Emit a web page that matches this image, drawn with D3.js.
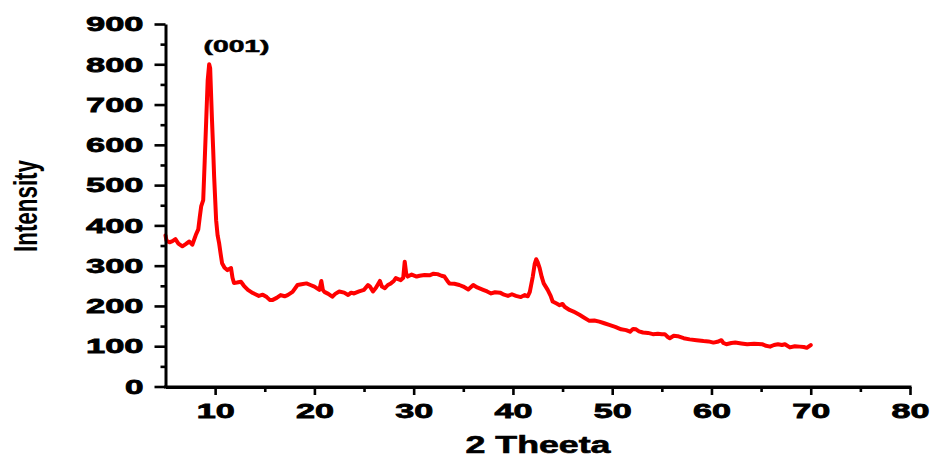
<!DOCTYPE html>
<html>
<head>
<meta charset="utf-8">
<script src="https://cdn.jsdelivr.net/npm/d3@7"></script>
<style>
  html, body { margin: 0; padding: 0; background: #fff; }
  svg { display: block; }
</style>
</head>
<body>
<svg id="chart" width="932" height="457"></svg>
<script>
// ---- Data ----
const twoTheta = [5.0,5.1,5.4,5.7,6.0,6.3,6.7,7.0,7.4,7.7,8.05,8.3,8.45,8.6,8.8,8.95,9.1,9.25,9.4,9.5,9.67,9.8,9.9,10.1,10.25,10.4,10.55,10.7,10.95,11.25,11.6,11.75,11.9,12.2,12.6,12.9,13.3,13.8,14.4,14.8,15.2,15.5,15.8,16.2,16.6,17.0,17.3,17.8,18.3,18.7,19.2,19.6,20.0,20.5,20.7,20.85,21.0,21.4,21.8,22.1,22.5,23.0,23.4,23.7,24.0,24.5,25.0,25.4,25.6,25.9,26.2,26.6,26.8,27.1,27.4,27.7,28.0,28.2,28.5,28.7,28.95,29.1,29.25,29.4,29.8,30.3,30.6,31.1,31.6,32.0,32.4,32.8,33.1,33.4,33.6,34.1,34.6,35.0,35.5,36.0,36.4,37.0,37.4,37.8,38.2,38.7,39.1,39.5,39.9,40.3,40.8,41.2,41.5,41.7,42.0,42.2,42.35,42.5,42.7,42.9,43.1,43.5,43.8,44.0,44.4,44.7,45.0,45.2,45.7,46.1,46.7,47.1,47.7,48.2,48.7,49.2,49.7,50.3,50.9,51.4,51.8,52.1,52.4,52.7,53.1,53.6,54.1,54.6,55.0,55.3,55.6,55.8,56.2,56.6,57.2,57.8,58.5,59.2,59.7,60.2,60.6,61.0,61.2,61.5,62.0,62.4,63.0,63.6,64.3,65.1,65.5,65.9,66.3,66.7,67.1,67.4,67.9,68.4,68.9,69.3,69.6,70.0];
const intensity = [375,362,358,361,366,355,348,353,360,352,376,390,420,448,463,560,660,760,800,790,670,590,521,413,375,356,330,306,295,289,294,270,257,258,260,250,240,232,225,228,222,215,215,220,227,224,227,235,252,254,256,252,248,240,262,240,235,230,223,230,236,233,227,233,231,236,240,252,248,236,245,262,248,244,252,256,262,269,266,264,270,310,280,273,278,273,275,277,276,280,279,275,273,262,256,255,252,248,241,252,246,240,236,231,234,233,228,225,229,225,222,227,224,235,273,305,316,308,293,272,256,240,225,211,206,202,205,198,190,186,178,172,163,164,161,157,153,148,142,140,136,143,142,137,134,133,130,131,130,130,123,120,126,125,120,117,115,113,112,109,111,115,108,105,108,109,107,105,106,105,101,99,103,105,103,105,97,100,99,98,96,103];

const xMajorTicks = [10,20,30,40,50,60,70,80];
const xMinorTicks = [15,25,35,45,55,65,75];
const yMajorTicks = [0,100,200,300,400,500,600,700,800,900];
const yMinorTicks = [50,150,250,350,450,550,650,750,850];
const xTitle = "2 Theeta";
const yTitle = "Intensity";
const peakLabel = "(001)";

// ---- Layout ----
const svg = d3.select("#chart");
const x = d3.scaleLinear().domain([5, 80]).range([165.5, 910]);
const y = d3.scaleLinear().domain([0, 900]).range([386.5, 24]);
const axisX0 = 387, axisY0 = 165.5;
const labelFont = "'Liberation Sans', Arial, sans-serif";

// line
const data = twoTheta.map((t, i) => [t, intensity[i]]);
svg.append("path")
  .datum(data)
  .attr("fill", "none")
  .attr("stroke", "#ff0000")
  .attr("stroke-width", 4)
  .attr("stroke-linejoin", "round")
  .attr("stroke-linecap", "round")
  .attr("d", d3.line().x(d => x(d[0])).y(d => y(d[1])));

function styleAxis(g) {
  g.select(".domain").attr("stroke", "#000").attr("stroke-width", 3);
  g.selectAll(".tick line").attr("stroke", "#000").attr("stroke-width", 2.6);
  g.selectAll(".tick text")
    .attr("fill", "#000")
    .attr("stroke", "#000")
    .attr("stroke-width", 0.8)
    .style("font-family", labelFont)
    .style("font-weight", "bold")
    .style("font-size", "21px")
    .attr("lengthAdjust", "spacingAndGlyphs")
    .attr("textLength", function() { return this.textContent.length * 19.5 - 1; });
}

// X axis
const gx = svg.append("g").attr("transform", `translate(0,${axisX0})`);
gx.call(d3.axisBottom(x).tickValues(xMajorTicks).tickSize(8).tickSizeOuter(0).tickPadding(8).tickFormat(d3.format("d")));
styleAxis(gx);
const gxm = svg.append("g").attr("transform", `translate(0,${axisX0})`);
gxm.call(d3.axisBottom(x).tickValues(xMinorTicks).tickSize(5).tickSizeOuter(0).tickFormat(""));
gxm.select(".domain").remove();
gxm.selectAll(".tick line").attr("stroke", "#000").attr("stroke-width", 2.6);

// Y axis
const gy = svg.append("g").attr("transform", `translate(${axisY0},0)`);
gy.call(d3.axisLeft(y).tickValues(yMajorTicks).tickSize(11).tickSizeOuter(0).tickPadding(11).tickFormat(d3.format("d")));
styleAxis(gy);
const gym = svg.append("g").attr("transform", `translate(${axisY0},0)`);
gym.call(d3.axisLeft(y).tickValues(yMinorTicks).tickSize(5).tickSizeOuter(0).tickFormat(""));
gym.select(".domain").remove();
gym.selectAll(".tick line").attr("stroke", "#000").attr("stroke-width", 2.6);

// extend x axis line to join y axis corner
svg.append("line")
  .attr("x1", axisY0 - 1.5).attr("x2", x(80) + 1.5)
  .attr("y1", axisX0).attr("y2", axisX0)
  .attr("stroke", "#000").attr("stroke-width", 3);

// Axis titles
svg.append("text")
  .attr("x", 538).attr("y", 453)
  .attr("text-anchor", "middle")
  .attr("stroke", "#000")
  .attr("stroke-width", 0.6)
  .style("font-family", labelFont)
  .style("font-weight", "bold")
  .style("font-size", "23px")
  .attr("lengthAdjust", "spacingAndGlyphs")
  .attr("textLength", 145)
  .text(xTitle);

svg.append("text")
  .attr("transform", "translate(37,206) rotate(-90)")
  .attr("text-anchor", "middle")
  .style("font-family", "'Liberation Sans Narrow', 'Liberation Sans', Arial, sans-serif")
  .style("font-weight", "bold")
  .style("font-size", "33px")
  .attr("lengthAdjust", "spacingAndGlyphs")
  .attr("textLength", 92)
  .text(yTitle);

// Peak annotation
svg.append("text")
  .attr("x", 236.5).attr("y", 52)
  .attr("text-anchor", "middle")
  .attr("stroke", "#000")
  .attr("stroke-width", 0.5)
  .style("font-family", labelFont)
  .style("font-weight", "bold")
  .style("font-size", "17px")
  .attr("lengthAdjust", "spacingAndGlyphs")
  .attr("textLength", 66)
  .text(peakLabel);
</script>
</body>
</html>
